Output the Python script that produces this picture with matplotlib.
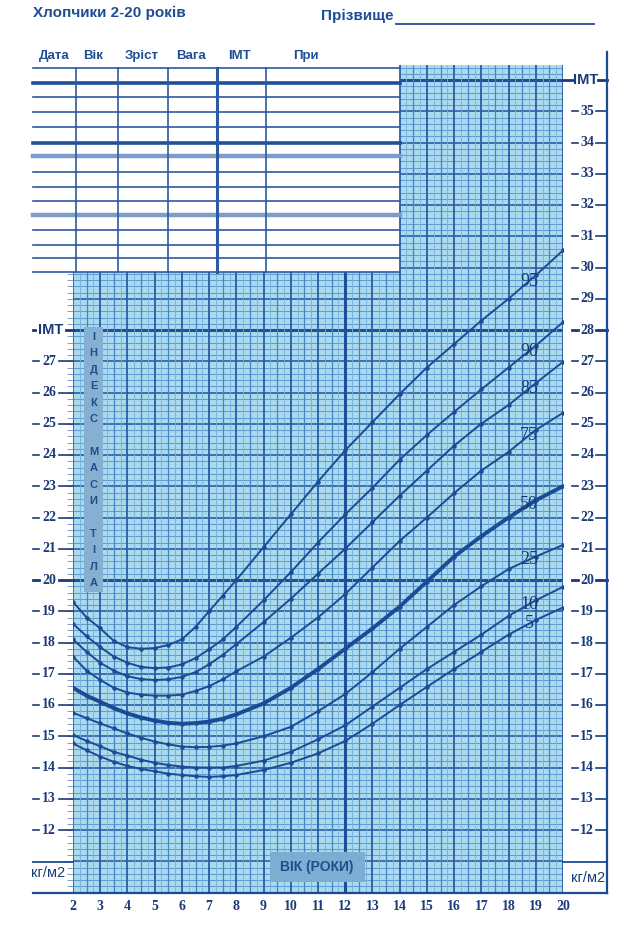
import matplotlib

matplotlib.use("Agg")
import matplotlib.pyplot as plt
import numpy as np
from matplotlib.patches import Rectangle

# ---- BMI percentile curves (kg/m2) ----
ages = [2, 2.5, 3, 3.5, 4, 4.5, 5, 5.5, 6, 6.5, 7, 7.5, 8,
        9, 10, 11, 12, 13, 14, 15, 16, 17, 18, 19, 20]
p95 = [19.3, 18.8, 18.45, 18.05, 17.85, 17.8, 17.82, 17.92, 18.1, 18.5, 19.0, 19.5, 20.0,
       21.05, 22.1, 23.15, 24.15, 25.05, 25.95, 26.8, 27.55, 28.3, 29.0, 29.75, 30.55]
p90 = [18.6, 18.2, 17.85, 17.55, 17.35, 17.22, 17.18, 17.2, 17.3, 17.5, 17.78, 18.1, 18.5,
       19.35, 20.25, 21.2, 22.1, 22.95, 23.85, 24.64, 25.38, 26.1, 26.8, 27.5, 28.25]
p85 = [18.1, 17.7, 17.35, 17.1, 16.92, 16.83, 16.8, 16.82, 16.9, 17.05, 17.3, 17.6, 17.95,
       18.65, 19.4, 20.2, 21.0, 21.85, 22.7, 23.5, 24.3, 25.0, 25.6, 26.3, 26.98]
p75 = [17.55, 17.1, 16.8, 16.55, 16.4, 16.33, 16.3, 16.3, 16.33, 16.45, 16.6, 16.82, 17.08,
       17.55, 18.15, 18.8, 19.55, 20.4, 21.25, 22.0, 22.78, 23.5, 24.1, 24.8, 25.35]
p50 = [16.55, 16.3, 16.1, 15.9, 15.73, 15.6, 15.5, 15.43, 15.4, 15.42, 15.47, 15.56, 15.7,
       16.05, 16.55, 17.15, 17.8, 18.45, 19.15, 19.95, 20.75, 21.4, 22.0, 22.55, 23.0]
p25 = [15.75, 15.58, 15.41, 15.25, 15.09, 14.95, 14.83, 14.74, 14.67, 14.65, 14.66, 14.7, 14.77,
       15.0, 15.3, 15.8, 16.35, 17.05, 17.8, 18.5, 19.2, 19.8, 20.35, 20.75, 21.12]
p10 = [15.04, 14.85, 14.68, 14.5, 14.38, 14.25, 14.15, 14.08, 14.03, 14.0, 14.0, 14.0, 14.05,
       14.22, 14.5, 14.9, 15.35, 15.95, 16.55, 17.15, 17.7, 18.25, 18.85, 19.35, 19.78]
p5 = [14.77, 14.55, 14.35, 14.18, 14.05, 13.95, 13.88, 13.8, 13.76, 13.72, 13.7, 13.72, 13.76,
      13.92, 14.15, 14.45, 14.85, 15.4, 16.0, 16.58, 17.15, 17.7, 18.25, 18.72, 19.12]

curve_labels = ["95", "90", "85", "75", "50", "25", "10", "5"]
curve_values = [p95, p90, p85, p75, p50, p25, p10, p5]

left_ticks = list(range(12, 28))
right_ticks = list(range(12, 36))
age_ticks = list(range(2, 21))
table_headers = ["Дата", "Вік", "Зріст", "Вага", "IMT", "При"]
side_title = "ІНДЕКС МАСИ ТІЛА"

NAVY = "#1a3b78"
LINE = "#1a4b96"
FILL = "#abd9ed"
MAJOR = "#2a5ea6"

# page geometry (pixels)
W, H = 625, 931
X2, X20 = 73, 563
Y20, PX_PER_BMI = 580, 31.25
Y_BOTTOM, Y_TOP = 893, 65


def age_at(px):
    return 2 + (px - X2) * 18 / (X20 - X2)


def bmi_at(py):
    return 20 - (py - Y20) / PX_PER_BMI


fig = plt.figure(figsize=(W / 100, H / 100), dpi=100)
fig.patch.set_facecolor("white")
ax = fig.add_axes([X2 / W, 1 - Y_BOTTOM / H, (X20 - X2) / W, (Y_BOTTOM - Y_TOP) / H])
ax.set_xlim(2, 20)
ax.set_ylim(bmi_at(Y_BOTTOM), bmi_at(Y_TOP))
ax.axis("off")

grid_top = bmi_at(272)
grid_max = bmi_at(Y_TOP)
bmi_min = bmi_at(Y_BOTTOM)

# shaded graph paper
ax.add_patch(Rectangle((2, bmi_min), 18, grid_top - bmi_min, fc=FILL, ec="none", zorder=0))
ax.add_patch(Rectangle((14, grid_top), 6, grid_max - grid_top, fc=FILL, ec="none", zorder=0))

ys = np.round(np.arange(10.2, grid_max, 0.2), 1)
xmin = np.where(ys <= grid_top, 2, 14)
is_int = np.isclose(ys, np.round(ys))
ax.hlines(ys[~is_int], xmin[~is_int], 20, color="#5f9dd2", lw=0.75, zorder=1)
ax.hlines(ys[is_int], xmin[is_int], 20, color=MAJOR, lw=1.2, zorder=1)
for y in (20, 28, 36):
    ax.hlines(y, 2 if y < grid_top else 14, 20, color="#1f4f98", lw=2.2, zorder=1)

xs = np.arange(2, 20.01, 0.25)
ymax = np.where(xs >= 14, grid_max, grid_top)
quarter = ~np.isclose(xs * 2, np.round(xs * 2))
half = ~quarter & ~np.isclose(xs, np.round(xs))
whole = np.isclose(xs, np.round(xs))
ax.vlines(xs[quarter], bmi_min, ymax[quarter], color="#74afdb", lw=0.6, zorder=1)
ax.vlines(xs[half], bmi_min, ymax[half], color="#4784c2", lw=0.9, zorder=1)
ax.vlines(xs[whole], bmi_min, ymax[whole], color=MAJOR, lw=1.3, zorder=1)
ax.vlines(12, bmi_min, grid_top, color="#1f4f98", lw=2.2, zorder=1)

# minor comb on the left edge
comb = ys[ys <= grid_top]
ax.hlines(comb, age_at(67), 2, color="#6f8fb8", lw=0.6, clip_on=False)

# percentile curves
for lab, vals in zip(curve_labels, curve_values):
    lw = 2.8 if lab == "50" else 1.4
    ax.plot(ages, vals, color=LINE, lw=lw, marker="o", ms=2.2, zorder=3)
    ax.text(18.75, np.interp(18.75, ages, vals), lab, ha="center", va="center",
            fontsize=13, family="Liberation Serif", color="#163a78", zorder=4)

# left axis labels
for b in left_ticks:
    lw = 2.0 if b == 20 else 1.2
    ax.plot([age_at(33), age_at(39)], [b, b], color=NAVY, lw=lw, clip_on=False)
    ax.plot([age_at(59), 2], [b, b], color=NAVY, lw=lw, clip_on=False)
    ax.text(age_at(49), b, str(b), ha="center", va="center", fontsize=10,
            family="Liberation Serif", weight="bold", color=NAVY)
ax.plot([age_at(33), age_at(35)], [28, 28], color=NAVY, lw=2, clip_on=False)
ax.plot([age_at(66), 2], [28, 28], color=NAVY, lw=2, clip_on=False)
ax.text(age_at(51), 28, "IMT", ha="center", va="center", fontsize=10.5,
        family="Liberation Sans", weight="bold", color=NAVY)

# right axis labels
for b in right_ticks:
    lw = 2.0 if b in (20, 28) else 1.2
    ax.plot([age_at(572), age_at(578)], [b, b], color=NAVY, lw=lw, clip_on=False)
    ax.plot([age_at(596), age_at(607)], [b, b], color=NAVY, lw=lw, clip_on=False)
    ax.text(age_at(587), b, str(b), ha="center", va="center", fontsize=10,
            family="Liberation Serif", weight="bold", color=NAVY)
ax.plot([20, age_at(573)], [36, 36], color=NAVY, lw=2, clip_on=False)
ax.plot([age_at(598), age_at(607)], [36, 36], color=NAVY, lw=2, clip_on=False)
ax.text(age_at(586), 36, "IMT", ha="center", va="center", fontsize=10.5,
        family="Liberation Sans", weight="bold", color=NAVY)

# age axis labels
for a in age_ticks:
    ax.text(a, bmi_at(907), str(a), ha="center", va="center", fontsize=10,
            family="Liberation Serif", weight="bold", color=NAVY)

# frame lines
ax.plot([age_at(33), age_at(607)], [bmi_min, bmi_min], color=LINE, lw=1.6, clip_on=False)
ax.plot([age_at(33), 2], [bmi_at(862)] * 2, color=LINE, lw=1.3, clip_on=False)
ax.plot([20, age_at(607)], [bmi_at(862)] * 2, color=LINE, lw=1.3, clip_on=False)
ax.plot([age_at(607)] * 2, [bmi_min, bmi_at(52)], color=LINE, lw=1.6, clip_on=False)

ax.text(age_at(48), bmi_at(873), "кг/м2", ha="center", va="center", fontsize=10.5,
        family="Liberation Sans", color=NAVY)
ax.text(age_at(588), bmi_at(878), "кг/м2", ha="center", va="center", fontsize=10.5,
        family="Liberation Sans", color=NAVY)

# "ВІК (РОКИ)" box
ax.add_patch(Rectangle((age_at(270), bmi_at(882)), age_at(365) - age_at(270),
                       bmi_at(852) - bmi_at(882), fc="#7eadd3", ec="none", zorder=4))
ax.text(age_at(317), bmi_at(867), "ВІК (РОКИ)", ha="center", va="center", fontsize=10,
        family="Liberation Sans", weight="bold", color="#1d4f8f", zorder=5)

# vertical "ІНДЕКС МАСИ ТІЛА" box
ax.add_patch(Rectangle((age_at(84), bmi_at(592)), age_at(103) - age_at(84),
                       bmi_at(327) - bmi_at(592), fc="#86b0d2", ec="none", zorder=4))
for i, ch in enumerate(side_title):
    if ch != " ":
        ax.text(age_at(93.5), bmi_at(337 + i * 16.4), ch, ha="center", va="center",
                fontsize=8, family="Liberation Sans", weight="bold", color="#1d4f8f", zorder=5)

# record table above the chart
row_py = [68, 83, 97, 112, 127, 143, 156, 172, 187, 201, 215, 230, 245, 258, 272]
for py in row_py:
    if py in (83, 143):
        style = dict(color="#1f4f98", lw=2.6)
    elif py in (156, 215):
        style = dict(color="#7e9cc8", lw=3.2)
    else:
        style = dict(color="#2b5aa3", lw=1.2)
    ax.plot([age_at(33), age_at(400)], [bmi_at(py)] * 2, clip_on=False, zorder=2, **style)
for px in [76, 118, 168, 217, 266]:
    ax.plot([age_at(px)] * 2, [bmi_at(272), bmi_at(68)], color="#2b5aa3",
            lw=2.2 if px == 217 else 1.2, clip_on=False, zorder=2)

header_px = [54, 93, 142, 191, 239, 306]
for px, txt in zip(header_px, table_headers):
    fig.text(px / W, 1 - 56 / H, txt, ha="center", va="center", fontsize=9.5,
             family="Liberation Sans", weight="bold", color="#1f4e96")

fig.text(33 / W, 1 - 13 / H, "Хлопчики 2-20 років", ha="left", va="center",
         fontsize=11, family="Liberation Sans", weight="bold", color="#1f4e96")
fig.text(321 / W, 1 - 16 / H, "Прізвище", ha="left", va="center",
         fontsize=11, family="Liberation Sans", weight="bold", color="#1f4e96")
ax.plot([age_at(396), age_at(594)], [bmi_at(24)] * 2, color="#1f4e96", lw=1.3, clip_on=False)

fig.savefig("out.png", dpi=100, facecolor="white")
